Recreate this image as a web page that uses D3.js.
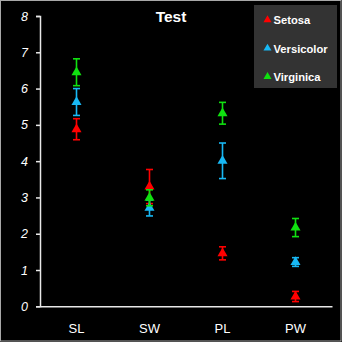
<!DOCTYPE html>
<html><head><meta charset="utf-8">
<script src="https://cdn.jsdelivr.net/npm/d3@7"></script>
<style>html,body{margin:0;padding:0;background:#000;}svg{display:block;}</style>
</head><body>
<script>
const categories = ["SL", "SW", "PL", "PW"];
const seriesNames = ["Setosa", "Versicolor", "Virginica"];
const setosaMean = [4.88, 3.30, 1.46, 0.27];
const setosaErr = [0.29, 0.47, 0.18, 0.14];
const versicolorMean = [5.63, 2.71, 4.01, 1.22];
const versicolorErr = [0.37, 0.22, 0.49, 0.12];
const virginicaMean = [6.45, 2.99, 5.32, 2.17];
const virginicaErr = [0.37, 0.22, 0.30, 0.25];
const yTicks = [0, 1, 2, 3, 4, 5, 6, 7, 8];
const chartTitle = "Test";

const colors = ["#ff0000", "#18b8f4", "#10e010"];
const series = [
  {name: seriesNames[0], mean: setosaMean, err: setosaErr, color: colors[0]},
  {name: seriesNames[1], mean: versicolorMean, err: versicolorErr, color: colors[1]},
  {name: seriesNames[2], mean: virginicaMean, err: virginicaErr, color: colors[2]}
];

const W = 342, H = 342;
const svg = d3.select("body").append("svg").attr("width", W).attr("height", H);
svg.append("rect").attr("x", 0).attr("y", 0).attr("width", W).attr("height", H).attr("fill", "#000");
svg.append("rect").attr("x", 0.5).attr("y", 0.5).attr("width", W - 1.5).attr("height", H - 1.5)
  .attr("fill", "none").attr("stroke", "#a8a8a8").attr("stroke-width", 1);

const mLeft = 40, mRight = 332, mTop = 16, mBottom = 306.3;
const x = d3.scaleBand().domain(categories).range([mLeft, mRight]).padding(0);
const y = d3.scaleLinear().domain([0, 8]).range([mBottom, mTop]);

const font = "'Liberation Sans', Arial, sans-serif";

// y axis
const yAxis = svg.append("g").attr("transform", `translate(${mLeft},0)`)
  .call(d3.axisLeft(y).tickValues(yTicks).tickSize(4).tickPadding(8).tickFormat(d3.format("d")));
yAxis.select(".domain").attr("stroke", "#e8e8e8").attr("stroke-width", 1.5);
yAxis.selectAll(".tick line").attr("stroke", "#e8e8e8").attr("stroke-width", 1.5);
yAxis.selectAll("text").attr("fill", "#fff").attr("font-family", font)
  .attr("font-size", 12.5).attr("font-style", "italic");

// x axis
const xAxis = svg.append("g").attr("transform", `translate(0,${mBottom})`)
  .call(d3.axisBottom(x).tickSize(0).tickPadding(17));
xAxis.select(".domain").attr("stroke", "#e8e8e8").attr("stroke-width", 1.5);
xAxis.selectAll("text").attr("fill", "#fff").attr("font-family", font).attr("font-size", 13);

// title
svg.append("text").attr("x", 171).attr("y", 22).attr("text-anchor", "middle")
  .attr("fill", "#fff").attr("font-family", font).attr("font-weight", "bold").attr("font-size", 15.5)
  .text(chartTitle);

const tri = d3.symbol().type(d3.symbolTriangle).size(44);
const cap = 3.5;

series.forEach(s => {
  const g = svg.append("g");
  categories.forEach((c, i) => {
    const cx = x(c) + x.bandwidth() / 2;
    const y1 = y(s.mean[i] + s.err[i]), y0 = y(s.mean[i] - s.err[i]);
    g.append("line").attr("x1", cx).attr("x2", cx).attr("y1", y1).attr("y2", y0)
      .attr("stroke", s.color).attr("stroke-width", 1.6);
    g.append("line").attr("x1", cx - cap).attr("x2", cx + cap).attr("y1", y1).attr("y2", y1)
      .attr("stroke", s.color).attr("stroke-width", 1.6);
    g.append("line").attr("x1", cx - cap).attr("x2", cx + cap).attr("y1", y0).attr("y2", y0)
      .attr("stroke", s.color).attr("stroke-width", 1.6);
    g.append("path").attr("d", tri).attr("transform", `translate(${cx},${y(s.mean[i])})`)
      .attr("fill", s.color);
  });
});

// legend
const lg = svg.append("g");
lg.append("rect").attr("x", 254).attr("y", 5).attr("width", 83).attr("height", 83)
  .attr("fill", "#333333");
series.forEach((s, i) => {
  const cy = 20 + i * 28.3;
  lg.append("path").attr("d", d3.symbol().type(d3.symbolTriangle).size(28))
    .attr("transform", `translate(267.5,${cy})`).attr("fill", s.color);
  lg.append("text").attr("x", 273.5).attr("y", cy + 4.3).attr("fill", "#fff")
    .attr("font-family", font).attr("font-weight", "bold").attr("font-size", 11.2).text(s.name);
});
</script>
</body></html>
